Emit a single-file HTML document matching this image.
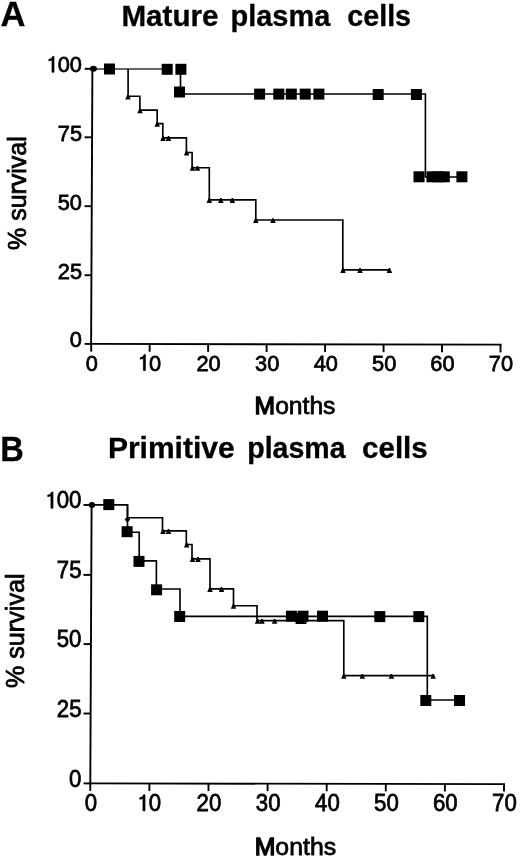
<!DOCTYPE html>
<html><head><meta charset="utf-8"><title>Survival curves</title>
<style>
html,body{margin:0;padding:0;background:#fff;}
body{width:520px;height:858px;overflow:hidden;}
svg{display:block;filter:grayscale(1) blur(0.35px);}
text{font-family:"Liberation Sans",sans-serif;fill:#000;font-kerning:none;stroke:#000;stroke-width:0.75px;}
text[font-weight="bold"]{stroke-width:0.3px;}
.ax{stroke:#000;stroke-width:1.9;fill:none;}
.cv{stroke:#000;stroke-width:1.65;fill:none;}
.thin{stroke:#333;stroke-width:1.3;fill:none;}
.one{stroke:#000;stroke-width:0.75px;vector-effect:non-scaling-stroke;}
rect,polygon,circle,ellipse,path{fill:#000;}
</style></head>
<body>
<svg width="520" height="858" viewBox="0 0 520 858">
<path d="M92.40 67.80 L91.10 344.90" class="ax"/>
<path d="M90.10 343.90 L501.50 344.60" class="ax"/>
<path d="M84.6 68.8 H92.40" class="ax"/>
<path d="M84.6 137.3 H92.08" class="ax"/>
<path d="M84.6 206.2 H91.75" class="ax"/>
<path d="M84.6 275.2 H91.42" class="ax"/>
<path d="M84.6 343.9 H91.10" class="ax"/>
<path d="M91.20 343.90 V351.70" class="ax"/>
<path d="M149.67 344.00 V351.80" class="ax"/>
<path d="M208.14 344.10 V351.90" class="ax"/>
<path d="M266.61 344.20 V352.00" class="ax"/>
<path d="M325.09 344.30 V352.10" class="ax"/>
<path d="M383.56 344.40 V352.20" class="ax"/>
<path d="M442.03 344.50 V352.30" class="ax"/>
<path d="M500.50 344.60 V352.40" class="ax"/>
<path transform="translate(45.55,72.20) scale(21.817,22.285)" d="M0.386 0V-0.709H0.322C0.3 -0.64 0.25 -0.59 0.15 -0.575V-0.51C0.21 -0.515 0.26 -0.53 0.296 -0.555V0Z" class="one"/>
<text transform="translate(57.69,72.20) scale(0.9500,1)" font-size="22.97" >0</text>
<text transform="translate(69.82,72.20) scale(0.9500,1)" font-size="22.97" >0</text>
<text transform="translate(57.75,140.70) scale(0.9500,1)" font-size="22.97" >7</text>
<text transform="translate(69.88,140.70) scale(0.9500,1)" font-size="22.97" >5</text>
<text transform="translate(57.69,209.60) scale(0.9500,1)" font-size="22.97" >5</text>
<text transform="translate(69.82,209.60) scale(0.9500,1)" font-size="22.97" >0</text>
<text transform="translate(57.75,278.60) scale(0.9500,1)" font-size="22.97" >2</text>
<text transform="translate(69.88,278.60) scale(0.9500,1)" font-size="22.97" >5</text>
<text transform="translate(69.82,347.30) scale(0.9500,1)" font-size="22.97" >0</text>
<text transform="translate(85.73,370.50) scale(0.9500,1)" font-size="22.97" >0</text>
<path transform="translate(136.93,370.50) scale(21.817,22.285)" d="M0.386 0V-0.709H0.322C0.3 -0.64 0.25 -0.59 0.15 -0.575V-0.51C0.21 -0.515 0.26 -0.53 0.296 -0.555V0Z" class="one"/>
<text transform="translate(149.06,370.50) scale(0.9500,1)" font-size="22.97" >0</text>
<text transform="translate(196.49,370.50) scale(0.9500,1)" font-size="22.97" >2</text>
<text transform="translate(208.62,370.50) scale(0.9500,1)" font-size="22.97" >0</text>
<text transform="translate(255.09,370.50) scale(0.9500,1)" font-size="22.97" >3</text>
<text transform="translate(267.22,370.50) scale(0.9500,1)" font-size="22.97" >0</text>
<text transform="translate(313.73,370.50) scale(0.9500,1)" font-size="22.97" >4</text>
<text transform="translate(325.86,370.50) scale(0.9500,1)" font-size="22.97" >0</text>
<text transform="translate(372.01,370.50) scale(0.9500,1)" font-size="22.97" >5</text>
<text transform="translate(384.15,370.50) scale(0.9500,1)" font-size="22.97" >0</text>
<text transform="translate(430.37,370.50) scale(0.9500,1)" font-size="22.97" >6</text>
<text transform="translate(442.50,370.50) scale(0.9500,1)" font-size="22.97" >0</text>
<text transform="translate(488.83,370.50) scale(0.9500,1)" font-size="22.97" >7</text>
<text transform="translate(500.97,370.50) scale(0.9500,1)" font-size="22.97" >0</text>
<path d="M93.5 69 H170" class="thin"/>
<path d="M180.5 69 V94 H425.4 V177 H462" class="cv"/>
<path d="M128.1 69 V96.2 H139.9 V110.1 H157.2 V123.6 H162.8 V137.8 H186.4 V152.5 H192.1 V167.7 H209.3 V199.8 H255.8 V220 H342.8 V269.8 H389.3" class="cv"/>
<rect x="104.00" y="63.50" width="11.00" height="11.00"/>
<rect x="161.70" y="63.80" width="11.00" height="11.00"/>
<rect x="175.40" y="63.80" width="11.00" height="11.00"/>
<rect x="174.00" y="86.50" width="11.00" height="11.00"/>
<rect x="254.10" y="88.60" width="11.00" height="11.00"/>
<rect x="273.30" y="88.60" width="11.00" height="11.00"/>
<rect x="285.80" y="88.60" width="11.00" height="11.00"/>
<rect x="299.70" y="88.60" width="11.00" height="11.00"/>
<rect x="313.40" y="88.60" width="11.00" height="11.00"/>
<rect x="372.70" y="89.00" width="11.00" height="11.00"/>
<rect x="410.90" y="89.00" width="11.00" height="11.00"/>
<rect x="413.50" y="171.30" width="11.00" height="11.00"/>
<rect x="426.50" y="171.30" width="11.00" height="11.00"/>
<rect x="432.50" y="171.30" width="11.00" height="11.00"/>
<rect x="438.80" y="171.30" width="11.00" height="11.00"/>
<rect x="456.40" y="171.30" width="11.00" height="11.00"/>
<polygon points="125.30,99.40 130.70,99.40 128.70,94.60 127.30,94.60"/>
<polygon points="137.30,113.20 142.70,113.20 140.70,108.40 139.30,108.40"/>
<polygon points="154.50,126.70 159.90,126.70 157.90,121.90 156.50,121.90"/>
<polygon points="160.30,140.90 165.70,140.90 163.70,136.10 162.30,136.10"/>
<polygon points="165.80,140.90 171.20,140.90 169.20,136.10 167.80,136.10"/>
<polygon points="183.90,155.60 189.30,155.60 187.30,150.80 185.90,150.80"/>
<polygon points="189.80,170.80 195.20,170.80 193.20,166.00 191.80,166.00"/>
<polygon points="194.80,170.80 200.20,170.80 198.20,166.00 196.80,166.00"/>
<polygon points="206.60,202.90 212.00,202.90 210.00,198.10 208.60,198.10"/>
<polygon points="218.10,202.90 223.50,202.90 221.50,198.10 220.10,198.10"/>
<polygon points="229.60,202.90 235.00,202.90 233.00,198.10 231.60,198.10"/>
<polygon points="253.10,223.10 258.50,223.10 256.50,218.30 255.10,218.30"/>
<polygon points="270.30,223.10 275.70,223.10 273.70,218.30 272.30,218.30"/>
<polygon points="340.30,272.90 345.70,272.90 343.70,268.10 342.30,268.10"/>
<polygon points="357.30,272.90 362.70,272.90 360.70,268.10 359.30,268.10"/>
<polygon points="386.70,272.90 392.10,272.90 390.10,268.10 388.70,268.10"/>
<ellipse cx="93.4" cy="68.8" rx="3.5" ry="3.0"/>
<path d="M91.60 504.00 L90.30 784.40" class="ax"/>
<path d="M89.30 783.40 L505.00 784.10" class="ax"/>
<path d="M83.5 505.0 H91.60" class="ax"/>
<path d="M83.5 574.9 H91.27" class="ax"/>
<path d="M83.5 644.1 H90.95" class="ax"/>
<path d="M83.5 713.5 H90.63" class="ax"/>
<path d="M83.5 783.4 H90.30" class="ax"/>
<path d="M90.30 783.40 V790.90" class="ax"/>
<path d="M149.40 783.50 V791.00" class="ax"/>
<path d="M208.50 783.60 V791.10" class="ax"/>
<path d="M267.60 783.70 V791.20" class="ax"/>
<path d="M326.70 783.80 V791.30" class="ax"/>
<path d="M385.80 783.90 V791.40" class="ax"/>
<path d="M444.90 784.00 V791.50" class="ax"/>
<path d="M504.00 784.10 V791.60" class="ax"/>
<path transform="translate(44.38,508.20) scale(22.231,22.708)" d="M0.386 0V-0.709H0.322C0.3 -0.64 0.25 -0.59 0.15 -0.575V-0.51C0.21 -0.515 0.26 -0.53 0.296 -0.555V0Z" class="one"/>
<text transform="translate(56.74,508.20) scale(0.9500,1)" font-size="23.40" >0</text>
<text transform="translate(69.10,508.20) scale(0.9500,1)" font-size="23.40" >0</text>
<text transform="translate(56.81,578.10) scale(0.9500,1)" font-size="23.40" >7</text>
<text transform="translate(69.17,578.10) scale(0.9500,1)" font-size="23.40" >5</text>
<text transform="translate(56.74,647.30) scale(0.9500,1)" font-size="23.40" >5</text>
<text transform="translate(69.10,647.30) scale(0.9500,1)" font-size="23.40" >0</text>
<text transform="translate(56.81,716.70) scale(0.9500,1)" font-size="23.40" >2</text>
<text transform="translate(69.17,716.70) scale(0.9500,1)" font-size="23.40" >5</text>
<text transform="translate(69.10,786.60) scale(0.9500,1)" font-size="23.40" >0</text>
<text transform="translate(84.72,810.80) scale(0.9500,1)" font-size="23.40" >0</text>
<path transform="translate(136.40,810.80) scale(22.231,22.708)" d="M0.386 0V-0.709H0.322C0.3 -0.64 0.25 -0.59 0.15 -0.575V-0.51C0.21 -0.515 0.26 -0.53 0.296 -0.555V0Z" class="one"/>
<text transform="translate(148.77,810.80) scale(0.9500,1)" font-size="23.40" >0</text>
<text transform="translate(196.61,810.80) scale(0.9500,1)" font-size="23.40" >2</text>
<text transform="translate(208.98,810.80) scale(0.9500,1)" font-size="23.40" >0</text>
<text transform="translate(255.85,810.80) scale(0.9500,1)" font-size="23.40" >3</text>
<text transform="translate(268.21,810.80) scale(0.9500,1)" font-size="23.40" >0</text>
<text transform="translate(315.12,810.80) scale(0.9500,1)" font-size="23.40" >4</text>
<text transform="translate(327.48,810.80) scale(0.9500,1)" font-size="23.40" >0</text>
<text transform="translate(374.03,810.80) scale(0.9500,1)" font-size="23.40" >5</text>
<text transform="translate(386.39,810.80) scale(0.9500,1)" font-size="23.40" >0</text>
<text transform="translate(433.01,810.80) scale(0.9500,1)" font-size="23.40" >6</text>
<text transform="translate(445.37,810.80) scale(0.9500,1)" font-size="23.40" >0</text>
<text transform="translate(492.10,810.80) scale(0.9500,1)" font-size="23.40" >7</text>
<text transform="translate(504.46,810.80) scale(0.9500,1)" font-size="23.40" >0</text>
<path d="M92 504.8 H127.5 V532.2 H139.2 V560.8 H156.4 V589 H180 V616.3 H427.3 V700 H459" class="cv"/>
<path d="M127.5 504.8 V517.7 H162.5 V530.8 H186.3 V544.5 H192 V558.8 H210 V588.8 H233.5 V605.7 H257 V620.6 H343.8 V675.6 H433.5" class="cv"/>
<rect x="103.30" y="499.10" width="11.00" height="11.00"/>
<rect x="121.60" y="526.20" width="11.00" height="11.00"/>
<rect x="133.50" y="555.90" width="11.00" height="11.00"/>
<rect x="151.10" y="584.30" width="11.00" height="11.00"/>
<rect x="174.20" y="611.00" width="11.00" height="11.00"/>
<rect x="285.90" y="610.70" width="11.00" height="11.00"/>
<rect x="297.50" y="610.70" width="11.00" height="11.00"/>
<rect x="295.50" y="613.00" width="11.00" height="11.00"/>
<rect x="317.00" y="610.70" width="11.00" height="11.00"/>
<rect x="374.30" y="611.10" width="11.00" height="11.00"/>
<rect x="413.30" y="611.10" width="11.00" height="11.00"/>
<rect x="420.30" y="695.00" width="11.00" height="11.00"/>
<rect x="454.00" y="695.00" width="11.00" height="11.00"/>
<polygon points="127.4,516.6 130.2,519.6 127.4,522.6 124.6,519.6"/>
<polygon points="160.30,533.90 165.70,533.90 163.70,529.10 162.30,529.10"/>
<polygon points="165.80,533.90 171.20,533.90 169.20,529.10 167.80,529.10"/>
<polygon points="184.00,547.60 189.40,547.60 187.40,542.80 186.00,542.80"/>
<polygon points="189.80,561.90 195.20,561.90 193.20,557.10 191.80,557.10"/>
<polygon points="195.30,561.90 200.70,561.90 198.70,557.10 197.30,557.10"/>
<polygon points="207.30,591.90 212.70,591.90 210.70,587.10 209.30,587.10"/>
<polygon points="218.80,591.90 224.20,591.90 222.20,587.10 220.80,587.10"/>
<polygon points="230.80,608.80 236.20,608.80 234.20,604.00 232.80,604.00"/>
<polygon points="254.80,623.70 260.20,623.70 258.20,618.90 256.80,618.90"/>
<polygon points="259.30,623.70 264.70,623.70 262.70,618.90 261.30,618.90"/>
<polygon points="271.90,623.70 277.30,623.70 275.30,618.90 273.90,618.90"/>
<polygon points="341.10,678.70 346.50,678.70 344.50,673.90 343.10,673.90"/>
<polygon points="359.60,678.70 365.00,678.70 363.00,673.90 361.60,673.90"/>
<polygon points="388.70,678.70 394.10,678.70 392.10,673.90 390.70,673.90"/>
<polygon points="430.50,678.70 435.90,678.70 433.90,673.90 432.50,673.90"/>
<ellipse cx="91.9" cy="504.9" rx="3.1" ry="3.0"/>
<text transform="translate(0.44,25.80) scale(1.0081,1)" font-size="34.30" font-weight="bold" >A</text>
<text transform="translate(0.32,460.60) scale(0.9432,1)" font-size="34.59" font-weight="bold" >B</text>
<text transform="translate(121.42,25.60) scale(1.0330,1)" font-size="28.70" font-weight="bold" >Mature</text>
<text transform="translate(230.49,25.60) scale(1.0103,1)" font-size="28.70" font-weight="bold" >plasma</text>
<text transform="translate(347.28,25.60) scale(0.9994,1)" font-size="28.70" font-weight="bold" >cells</text>
<text transform="translate(107.89,458.40) scale(1.0354,1)" font-size="29.00" font-weight="bold" >Primitive</text>
<text transform="translate(247.22,458.40) scale(0.9846,1)" font-size="29.00" font-weight="bold" >plasma</text>
<text transform="translate(362.04,458.40) scale(1.0197,1)" font-size="29.00" font-weight="bold" >cells</text>
<text transform="translate(254.58,414.00) scale(1.0415,1)" font-size="23.69" font-weight="normal" ><tspan style="stroke-width:1.3px">M</tspan>onths</text>
<text transform="translate(254.66,854.50) scale(1.0495,1)" font-size="23.69" font-weight="normal" ><tspan style="stroke-width:1.3px">M</tspan>onths</text>
<text transform="translate(25.90,249.89) rotate(-90) scale(0.9977,1)" font-size="25.00">% survival</text>
<text transform="translate(24.10,688.10) rotate(-90) scale(1.0076,1)" font-size="25.00">% survival</text>
</svg>
</body></html>
